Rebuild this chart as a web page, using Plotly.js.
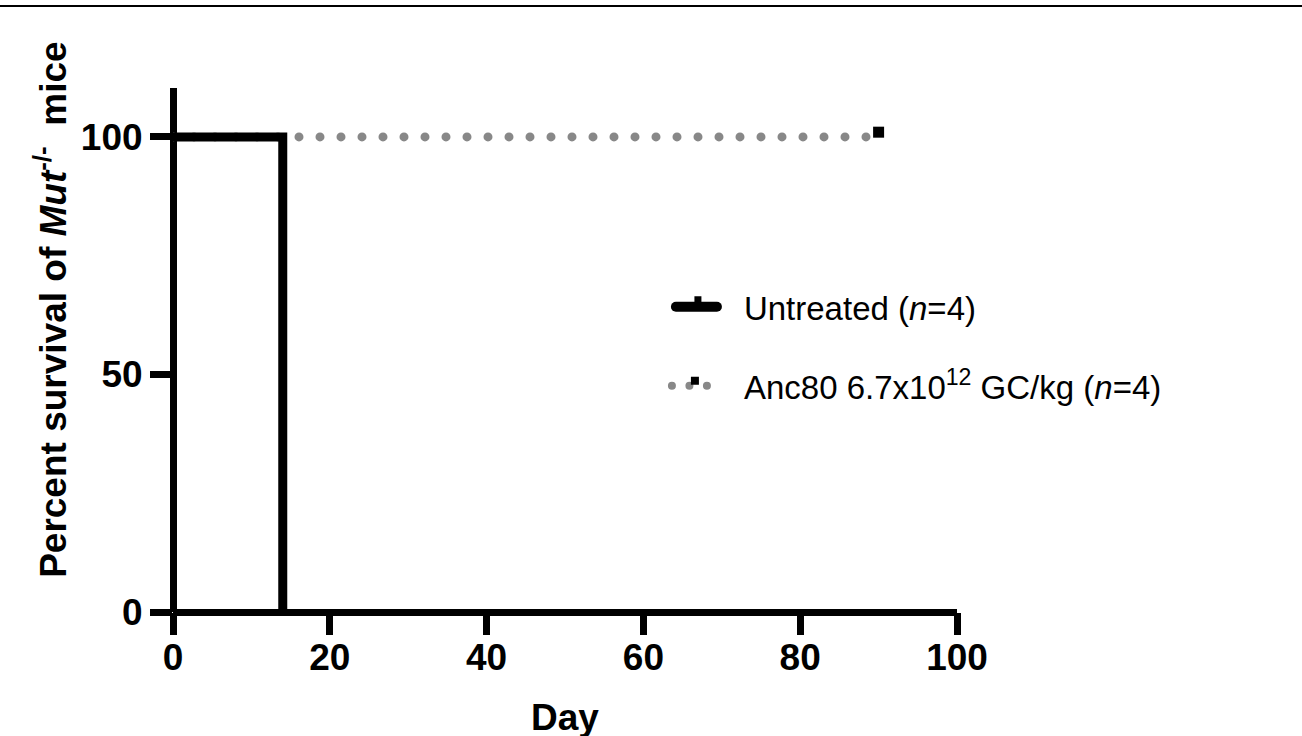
<!DOCTYPE html>
<html>
<head>
<meta charset="utf-8">
<script src="https://cdn.plot.ly/plotly-3.0.1.min.js"></script>
<style>
html, body { margin: 0; padding: 0; background: #ffffff; }
#chart { width: 1302px; height: 736px; position: relative; }
#topline { position: absolute; left: 0; top: 5px; width: 1302px; height: 2px; background: #000; }
.scatterlayer path.js-line, .legend path.js-line { stroke-linecap: round !important; }
</style>
</head>
<body>
<div id="chart"></div>
<div id="topline"></div>
<script>
// ---- data ----
const untreatedDays = [0, 14, 14];
const untreatedSurvival = [100, 100, 0];
const anc80Days = [0, 90];
const anc80Survival = [100, 100];
const anc80CensoredDays = [90];
const anc80CensoredSurvival = [101];
const xTickVals = [0, 20, 40, 60, 80, 100];
const yTickVals = [0, 50, 100];
const seriesNames = ['Untreated (<i>n</i>=4)', 'Anc80 6.7x10<sup>12</sup> GC/kg (<i>n</i>=4)'];
const xTitle = 'Day';
const yTitle = 'Percent survival of <i>Mut</i><sup>-/-</sup>  mice';

const FONT = 'Liberation Sans, Arial, Helvetica, sans-serif';

const traces = [
  {
    x: anc80Days, y: anc80Survival, type: 'scatter', mode: 'lines',
    line: { color: '#888888', width: 9, dash: '0px,21px' },
    showlegend: false, hoverinfo: 'skip', uid: 'anc80'
  },
  {
    x: anc80CensoredDays, y: anc80CensoredSurvival, type: 'scatter', mode: 'markers',
    marker: { symbol: 'square', size: 11, color: '#000000' },
    showlegend: false, hoverinfo: 'skip', cliponaxis: false
  },
  {
    x: untreatedDays, y: untreatedSurvival, type: 'scatter', mode: 'lines',
    line: { color: '#000000', width: 9 },
    showlegend: false, hoverinfo: 'skip', uid: 'untreated'
  },
  // legend entries
  {
    x: [null], y: [null], type: 'scatter', mode: 'lines+markers', name: seriesNames[0],
    line: { color: '#000000', width: 10 },
    marker: { symbol: 'square', size: 7, color: '#000000' },
    legendgroup: 'g1', showlegend: true
  },
  {
    x: [null], y: [null], type: 'scatter', mode: 'lines+markers', name: seriesNames[1],
    line: { color: '#888888', width: 8, dash: '0px,17.5px' },
    marker: { symbol: 'square', size: 8, color: '#000000' },
    legendgroup: 'g2', showlegend: true
  }
];

const tickFont = { family: FONT, size: 37, color: '#000000', weight: 'bold' };

const layout = {
  width: 1302, height: 736,
  margin: { l: 173, r: 345, t: 88, b: 124, pad: 0 },
  paper_bgcolor: '#ffffff', plot_bgcolor: '#ffffff',
  showlegend: true,
  xaxis: {
    range: [0, 100], tickvals: xTickVals, ticktext: xTickVals.map(String),
    showline: false, showgrid: false,
    zeroline: true, zerolinecolor: '#000000', zerolinewidth: 7,
    ticks: 'outside', ticklen: 22, tickwidth: 7, tickcolor: '#000000',
    ticklabelstandoff: -9,
    tickfont: tickFont, fixedrange: true
  },
  yaxis: {
    range: [0, 110.3], tickvals: yTickVals, ticktext: yTickVals.map(String),
    showline: false, showgrid: false,
    zeroline: true, zerolinecolor: '#000000', zerolinewidth: 7,
    ticks: 'outside', ticklen: 22, tickwidth: 7, tickcolor: '#000000',
    tickfont: tickFont, fixedrange: true
  },
  legend: {
    x: 0.63, xanchor: 'left', y: 0.507, yanchor: 'middle',
    font: { family: FONT, size: 33, color: '#000000' },
    bgcolor: 'rgba(0,0,0,0)', tracegroupgap: 33, itemwidth: 67
  },
  annotations: [
    {
      text: yTitle, xref: 'paper', yref: 'paper', x: -0.156, y: 0.576,
      xanchor: 'center', yanchor: 'middle', textangle: -90, showarrow: false,
      font: { family: FONT, size: 37, color: '#000000', weight: 'bold' }
    },
    {
      text: xTitle, xref: 'paper', yref: 'paper', x: 0.5, y: -0.158,
      xanchor: 'center', yanchor: 'top', showarrow: false,
      font: { family: FONT, size: 37, color: '#000000', weight: 'bold' }
    }
  ]
};

Plotly.newPlot('chart', traces, layout, { displayModeBar: false, staticPlot: true }).then(function (gd) {
  // shape the legend symbols like the reference (line length, marker offset)
  const items = gd.querySelectorAll('.legend .traces');
  items.forEach(function (g, i) {
    const line = g.querySelector('.legendlines path.js-line');
    const pts = g.querySelectorAll('.legendpoints path.scatterpts');
    if (i === 0) {
      if (line) line.setAttribute('d', 'M9,0h41');
      pts.forEach(function (p) { p.setAttribute('transform', 'translate(31,-7)'); });
    } else {
      if (line) line.setAttribute('d', 'M5,0h36');
      pts.forEach(function (p) { p.setAttribute('transform', 'translate(28,-5)'); });
    }
  });
});
</script>
</body>
</html>
